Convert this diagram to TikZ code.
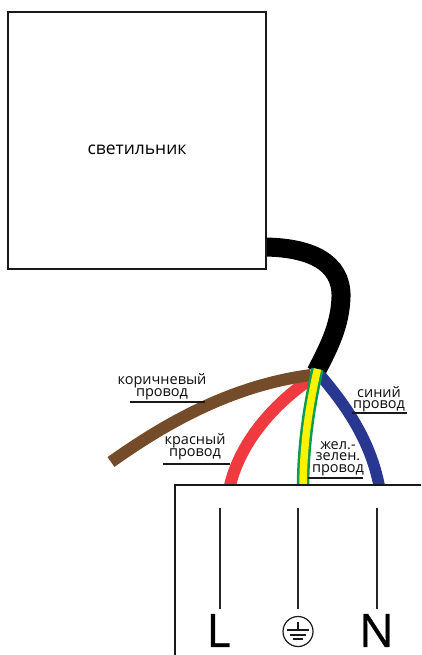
\documentclass[tikz,border=0pt]{standalone}
\usepackage{fontspec}
\setmainfont{Open Sans}
\newfontfamily\bigfont[FakeBold=0.6]{Open Sans}
\tikzset{
  box/.style={draw=black!90,line width=2pt,fill=white,outer sep=0pt,inner sep=0pt},
  wire/.style={line width=#1,line cap=butt},
  lead/.style={draw=black!90,line width=1.4pt},
  lab/.style={inner sep=0pt,align=center,font=\fontsize{14.5}{11.3}\selectfont,text=black!95},
  post/.style={draw=black!85,line width=1.5pt},
  big/.style={inner sep=0pt,font=\bigfont\fontsize{46}{46}\selectfont},
  gnd/.style={draw=black!90,line width=1.1pt}
}
\definecolor{cbrown}{HTML}{754C29}
\definecolor{cred}{HTML}{EF3A3F}
\definecolor{cblue}{HTML}{283891}
\definecolor{cgreen}{HTML}{0B9C4D}
\definecolor{cyel}{HTML}{FFF200}
\begin{document}
\begin{tikzpicture}[x=1pt,y=-1pt]
\useasboundingbox (0,0) rectangle (421,655);
\clip (0,0) rectangle (421,655);
\fill[white] (0,0) rectangle (421,655);
% named end points
\coordinate (cs) at (262,247);
\coordinate (cm) at (341,297);
\coordinate (ce) at (316,372);
\coordinate (brA) at (111,462);
\coordinate (brB) at (311,375);
\coordinate (rdA) at (229,490);
\coordinate (rdB) at (312,378);
\coordinate (blA) at (380,490);
\coordinate (blB) at (320,375);
\coordinate (gyA) at (303,490);
\coordinate (gyB) at (317.5,369);
% cable
\draw[wire=19pt,black] (cs) .. controls (310,247) and (342,262) .. (cm) .. controls (340,325) and (330,345) .. (ce);
% lamp
\node[box,minimum width=258pt,minimum height=257pt] (lamp) at (137,140.5) {};
\node[inner sep=0pt,font=\fontsize{17.5}{17.5}\selectfont] (lampT) at (137,149.5) {светильник};
% conductors
\draw[wire=11.5pt,cblue] (blA) .. controls (372,445) and (350,410) .. (blB);
\draw[wire=12pt,cred] (rdA) .. controls (238,445) and (272,405) .. (rdB);
\draw[wire=12pt,cbrown] (brA) .. controls (170,420) and (235,385) .. (brB);
\draw[wire=12.5pt,cgreen] (gyA) .. controls (303,450) and (308,410) .. (gyB);
\draw[wire=7.5pt,cyel] (gyA) .. controls (303,450) and (308,410) .. (gyB);
% lower box
\node[box,minimum width=260pt,minimum height=200pt,anchor=north west] (base) at (175,485) {};
% labels
\node[lab] (t1) at (162,386.5) {коричневый\\провод};
\coordinate (l1a) at (130,402); \coordinate (l1b) at (205,402);
\draw[lead] (l1a) -- (l1b);
\node[lab] (t2) at (195,447) {красный\\провод};
\coordinate (l2a) at (163,464); \coordinate (l2b) at (230,464);
\draw[lead] (l2a) -- (l2b);
\node[lab] (t3) at (379,399) {синий\\провод};
\coordinate (l3a) at (352,413); \coordinate (l3b) at (407,413);
\draw[lead] (l3a) -- (l3b);
\node[lab] (t4) at (338,458.5) {жел.-\\зелен.\\провод};
\coordinate (l4a) at (308,478); \coordinate (l4b) at (363,478);
\draw[lead] (l4a) -- (l4b);
% posts
\node[big] (L) at (218.5,630.5) {L};
\node[big] (N) at (376.5,630.5) {N};
\node[draw=black!90,line width=1.2pt,circle,minimum size=30pt,inner sep=0pt] (G) at (298,631.5) {};
\coordinate (p1) at (220,508); \coordinate (p2) at (298,508); \coordinate (p3) at (377,508);
\coordinate (q1) at (220,609); \coordinate (q2) at (298,609); \coordinate (q3) at (377,609);
\draw[post] (p1) -- (q1);
\draw[post] (p2) -- (q2);
\draw[post] (p3) -- (q3);
\coordinate (g0) at (298,622);
\coordinate (g1) at (298,630);
\draw[gnd] (g0) -- (g1);
\draw[gnd] ([xshift=-11pt]g1) -- ([xshift=11pt]g1);
\draw[gnd] ([xshift=-8pt,yshift=-5pt]g1) -- ([xshift=8pt,yshift=-5pt]g1);
\draw[gnd] ([xshift=-5pt,yshift=-9pt]g1) -- ([xshift=5pt,yshift=-9pt]g1);
\end{tikzpicture}
\end{document}
